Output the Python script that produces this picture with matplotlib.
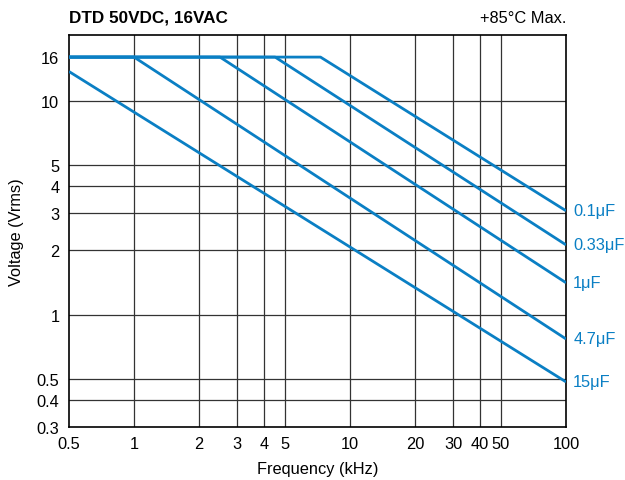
import numpy as np
from matplotlib import pyplot as plt
from matplotlib.ticker import FixedLocator, NullLocator, FixedFormatter

plt.rcParams['font.family'] = ['Liberation Sans', 'DejaVu Sans']

# Voltage derating curves, one polyline per capacitance (kHz, Vrms)
caps = ['0.1\u03bcF', '0.33\u03bcF', '1\u03bcF', '4.7\u03bcF', '15\u03bcF']
freq_pts = [[0.5, 7.3, 100], [0.5, 4.5, 100], [0.5, 2.5, 100], [0.5, 1.0, 100], [0.5, 100]]
volt_pts = [[16, 16, 3.06], [16, 16, 2.12], [16, 16, 1.41], [16, 16, 0.77], [13.7, 0.485]]

xticks = [0.5, 1, 2, 3, 4, 5, 10, 20, 30, 40, 50, 100]
xgrid = [1, 2, 3, 4, 5, 10, 20, 30, 40, 50]
yticks = [0.3, 0.4, 0.5, 1, 2, 3, 4, 5, 10, 16]
ygrid = [0.4, 0.5, 1, 2, 3, 4, 5, 10]

blue = '#0a7fc4'
fs = 11.8

fig = plt.figure(figsize=(6.25, 4.81), dpi=100)
ax = fig.add_axes([0.1104, 0.1112, 0.7952, 0.8140])
ax.set_xscale('log')
ax.set_yscale('log')
ax.set_xlim(0.5, 100)
ax.set_ylim(0.3, 20.3)

for g in xgrid:
    ax.axvline(g, color='#333333', lw=0.9, zorder=1)
for g in ygrid:
    ax.axhline(g, color='#333333', lw=0.9, zorder=1)

for name, fx, vy in zip(caps, freq_pts, volt_pts):
    ax.plot(fx, vy, color=blue, lw=2.0, zorder=3, solid_capstyle='butt')
    ax.text(108, vy[-1], name, color=blue, fontsize=fs, va='center', ha='left')

ax.xaxis.set_major_locator(FixedLocator(xticks))
ax.xaxis.set_major_formatter(FixedFormatter([f'{t:g}' for t in xticks]))
ax.xaxis.set_minor_locator(NullLocator())
ax.yaxis.set_major_locator(FixedLocator(yticks))
ax.yaxis.set_major_formatter(FixedFormatter([f'{t:g}' for t in yticks]))
ax.yaxis.set_minor_locator(NullLocator())
ax.tick_params(length=0, labelsize=fs, pad=7)

for s in ax.spines.values():
    s.set_linewidth(1.2)
    s.set_color('black')

ax.set_xlabel('Frequency (kHz)', fontsize=fs, labelpad=7)
ax.set_ylabel('Voltage (Vrms)', fontsize=fs, labelpad=9)

fig.text(0.1104, 0.962, 'DTD 50VDC, 16VAC', fontsize=12.3, fontweight='bold', ha='left', va='center')
fig.text(0.9056, 0.962, '+85\u00b0C Max.', fontsize=fs, ha='right', va='center')

plt.savefig('out.png', dpi=100)
